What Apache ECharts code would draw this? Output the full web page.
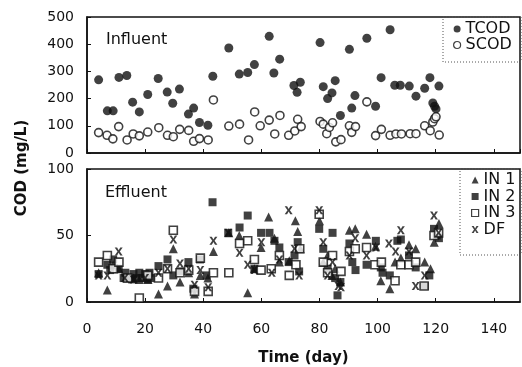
<!DOCTYPE html>
<html>
<head>
<meta charset="utf-8">
<title>COD</title>
<script src="https://cdn.jsdelivr.net/npm/echarts@6/dist/echarts.min.js"></script>
<style>
    html, body { margin: 0; padding: 0; background: #fff; }
    #main { width: 522px; height: 367px; }
</style>
</head>
<body>
<div id="main"></div>
<script>
// [day, COD mg/L]
var tcod = [[4,269],[7,155],[9,155],[11,278],[13.7,285],[15.7,187],[18,151],[20.9,215],[24.5,274],[27.6,224],[29.5,183],[31.8,235],[34.9,143],[36.7,165],[38.7,112],[41.6,102],[43.3,282],[48.8,386],[52.4,290],[55.3,296],[57.6,325],[62.7,429],[64.3,294],[66.3,345],[71.2,248],[72.3,223],[73.4,260],[80.2,406],[81.3,244],[82.8,200],[84.3,221],[85.4,266],[87.2,138],[90.3,381],[91.1,165],[92.2,211],[96.3,422],[99.3,172],[101.2,277],[104.3,453],[105.9,249],[107.8,249],[110.9,246],[113.2,209],[116.2,238],[118,277],[119,184],[119.6,172],[120.1,162],[121.1,246]];
var scod = [[4,75],[6.9,65],[8.9,52],[10.9,97],[13.8,48],[15.9,70],[18,63],[20.9,77],[24.7,93],[27.7,65],[29.7,60],[31.9,87],[35,83],[36.7,43],[38.7,53],[41.7,48],[43.5,195],[48.8,99],[52.5,106],[55.6,48],[57.7,151],[59.6,100],[62.7,121],[64.6,70],[66.4,138],[69.4,65],[71.5,81],[72.5,124],[73.7,97],[80.2,116],[81.3,106],[82.5,71],[83.4,94],[84.5,111],[85.6,41],[87.4,49],[90.3,100],[91.1,76],[92.4,97],[96.3,188],[99.3,64],[101.3,87],[104.3,65],[106.3,70],[108.2,70],[111.2,71],[113.2,71],[116.2,100],[118.1,82],[119,114],[119.6,126],[120.1,133],[121.2,66]];
var in1 = [[4,22],[7,9],[9,28],[11,25],[13.7,18],[16,18],[18,17],[21,17],[24.6,6],[27.7,12],[29.7,40],[32,15],[35,22],[37,6],[39,20],[41.6,18],[43.5,38],[48.8,52],[52.4,50],[55.3,7],[57.6,25],[59.9,41],[62.5,64],[64.5,48],[66.2,30],[69.6,31],[71.7,61],[72.5,53],[73.4,40],[80,61],[81.3,30],[82.8,35],[84.3,20],[85.4,25],[87.2,15],[90.3,54],[92.3,55],[96.2,51],[99.3,42],[101.1,16],[104.2,10],[106,30],[108,33],[110.8,43],[113.1,40],[116.2,30],[118.2,25],[119.5,45],[121.1,59]];
var in2 = [[4,21],[7,28],[8,24],[9,32],[10.9,25],[12.6,18],[13.2,22],[14,18],[15.5,17],[16,21],[17,18],[18,22],[19,18],[20,21],[20.9,17],[21.5,22],[22,18],[24.6,27],[27.7,32],[29.7,20],[32,23],[34.9,30],[36.6,10],[38.9,32],[41.2,20],[43.2,75],[48.6,52],[52.5,56],[55.3,65],[57.6,25],[59.9,52],[62.8,52],[64.5,46],[66.2,41],[69.4,30],[71.4,35],[72.5,45],[73,23],[79.9,55],[81.3,40],[82.8,25],[84.5,52],[85.4,18],[86.2,5],[87.2,15],[90.3,44],[91.3,30],[92.4,24],[96.2,28],[99.4,46],[101.1,26],[101.7,22],[104.2,20],[106.8,46],[108,47],[110.8,35],[113.1,26],[116.2,12],[117.8,20],[119.4,55],[120.3,50],[121.1,48]];
var in3 = [[4,30],[7,35],[9,25],[11,30],[14,18],[18,3],[20.9,20],[24.6,18],[27.7,25],[29.7,54],[32,22],[35,24],[37,8],[39,33],[41.7,8],[43.5,22],[48.8,22],[52.5,44],[55.3,46],[57.6,32],[59.9,24],[63.4,25],[66.2,35],[69.6,20],[71.9,28],[73.2,40],[79.9,66],[81.3,30],[82.8,22],[84.5,35],[87.4,23],[90.3,38],[92.3,40],[96.2,41],[99.1,28],[101.3,30],[106,16],[108,28],[110.8,28],[113.1,30],[116,12],[119.4,50],[121,52]];
var df = [[4,20],[7,20],[10.9,38],[13,18],[16,17],[20,18],[24.6,22],[27.7,25],[29.7,47],[32,29],[35,25],[37,13],[39,24],[41.7,11],[43.5,46],[48.6,52],[52.5,37],[55.3,28],[57.6,24],[60,45],[63.6,22],[66.2,32],[69.4,69],[71.4,40],[73,20],[79.9,69],[81.3,45],[82.8,20],[84.5,30],[86.5,12],[87.4,11],[90.3,35],[92.3,48],[96.2,35],[99.4,41],[103.9,44],[106.2,38],[108,54],[110.8,38],[113.1,12],[116.2,20],[119.4,65],[121,52]];

var ink = '#111';
var font = 'DejaVu Sans';
var crossPath = 'path://M0,0 L3,0 L5,3.5 L7,0 L10,0 L6.5,5 L10,10 L7,10 L5,6.5 L3,10 L0,10 L3.5,5 Z';

var chart = echarts.init(document.getElementById('main'));

function xAxis(grid, showLabels) {
    return {
        type: 'value', gridIndex: grid, min: 0, max: 149, interval: 20,
        axisLine: { show: true, lineStyle: { color: ink, width: 1.5 } },
        axisTick: { show: true, inside: true, length: 4, lineStyle: { color: ink } },
        axisLabel: { show: showLabels, showMaxLabel: false, margin: 20, color: ink, fontFamily: font, fontSize: 14 },
        splitLine: { show: false },
        name: showLabels ? 'Time (day)' : '',
        nameLocation: 'middle', nameGap: 49,
        nameTextStyle: { color: ink, fontFamily: font, fontSize: 15, fontWeight: 'bold' }
    };
}
function yAxis(grid, max, step) {
    return {
        type: 'value', gridIndex: grid, min: 0, max: max, interval: step,
        axisLine: { show: true, lineStyle: { color: ink, width: 1.5 } },
        axisTick: { show: true, inside: true, length: 4, lineStyle: { color: ink } },
        axisLabel: { margin: 13, color: ink, fontFamily: font, fontSize: 14 },
        splitLine: { show: false }
    };
}
function scatter(name, data, grid, symbol, size, fill) {
    return {
        name: name, type: 'scatter', data: data, xAxisIndex: grid, yAxisIndex: grid,
        symbol: symbol, symbolSize: size,
        itemStyle: fill ? { color: ink } : { color: '#fff', borderColor: ink, borderWidth: 1.6 }
    };
}

var legendText = { color: ink, fontFamily: font, fontSize: 16, lineHeight: 16 };

var option = {
    animation: false,
    grid: [
        { left: 87, top: 17, width: 433, height: 136, show: true, borderColor: ink, borderWidth: 1.5 },
        { left: 87, top: 169, width: 433, height: 134, show: true, borderColor: ink, borderWidth: 1.5 }
    ],
    xAxis: [xAxis(0, false), xAxis(1, true)],
    yAxis: [yAxis(0, 500, 100), yAxis(1, 100, 50)],
    legend: [
        { data: ['TCOD', 'SCOD'], orient: 'vertical', left: 453, top: 21, padding: 0,
          itemWidth: 7, itemHeight: 7, itemGap: 0, itemTextGap: 7, textStyle: legendText,
          itemStyle: { borderWidth: 1.2 } },
        { data: ['IN 1', 'IN 2', 'IN 3', 'DF'], orient: 'vertical', left: 471, top: 172, padding: 0,
          itemWidth: 7, itemHeight: 7, itemGap: 0.5, itemTextGap: 7, textStyle: legendText,
          itemStyle: { borderWidth: 1.2 } }
    ],
    graphic: [
        { type: 'rect', shape: { x: 443, y: 17, width: 78, height: 45 },
          style: { fill: 'none', stroke: '#555', lineWidth: 1, lineDash: [1, 2] } },
        { type: 'rect', shape: { x: 460, y: 169, width: 61, height: 86 },
          style: { fill: 'none', stroke: '#555', lineWidth: 1, lineDash: [1, 2] } },
        { type: 'text', left: 106, top: 32,
          style: { text: 'Influent', fill: ink, font: '16px "DejaVu Sans"' } },
        { type: 'text', left: 105, top: 185,
          style: { text: 'Effluent', fill: ink, font: '16px "DejaVu Sans"' } },
        { type: 'text', x: 22, y: 168, rotation: Math.PI / 2,
          style: { text: 'COD (mg/L)', fill: ink, font: 'bold 15px "DejaVu Sans"', align: 'center', verticalAlign: 'middle' } }
    ],
    series: [
        scatter('TCOD', tcod, 0, 'circle', 9, true),
        scatter('SCOD', scod, 0, 'circle', 8, false),
        scatter('IN 1', in1, 1, 'triangle', 9, true),
        scatter('IN 2', in2, 1, 'rect', 8, true),
        scatter('IN 3', in3, 1, 'rect', 8, false),
        scatter('DF', df, 1, crossPath, 8, true)
    ]
};
chart.setOption(option);
</script>
</body>
</html>
